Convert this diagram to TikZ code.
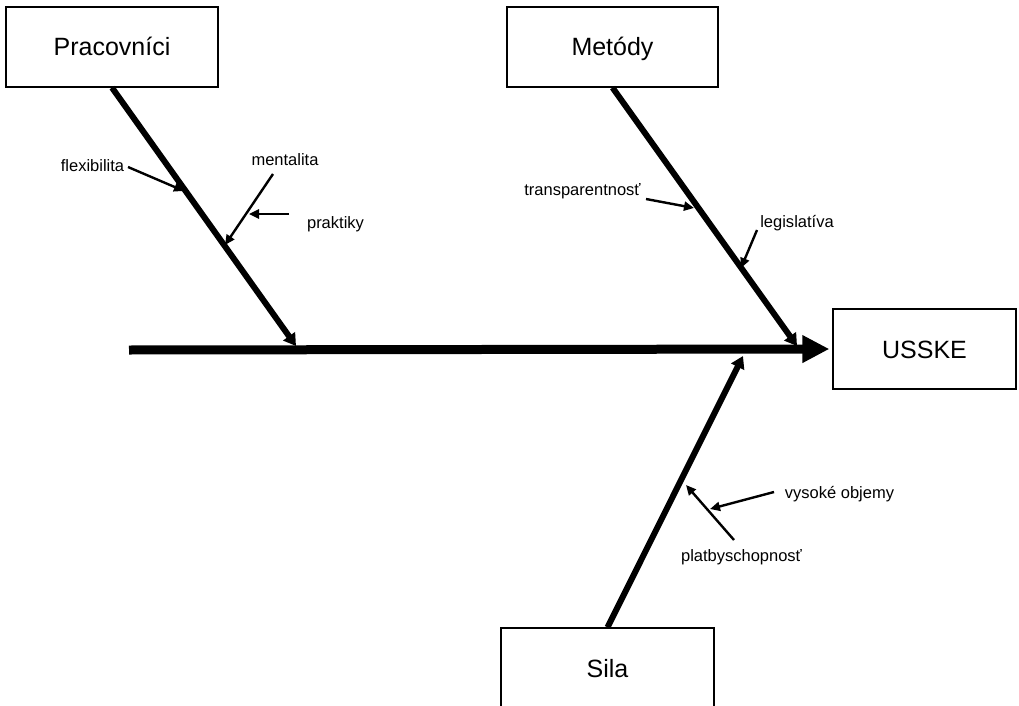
\documentclass[tikz,border=0pt]{standalone}
\usepackage{fontspec}
\setmainfont{Liberation Sans}
\usetikzlibrary{arrows.meta}
\begin{document}
\begin{tikzpicture}[x=1pt,y=-1pt,
  catbox/.style={draw=black,line width=1.3pt,minimum height=80pt,inner sep=0pt,text height=18pt,text depth=0pt,font=\fontsize{25}{29}\selectfont},
  lbl/.style={inner sep=0pt,font=\fontsize{16.5}{19}\selectfont},
  spine/.style={line width=9pt,-{Triangle[length=27pt,width=26pt]}},
  bone/.style={line width=6pt,-{Triangle[length=12pt,width=14pt]}},
  sub/.style={line width=2.4pt,-{Triangle[length=10pt,width=9pt]}}]
\clip (0,0) rectangle (1019,706);
\useasboundingbox (0,0) rectangle (1019,706);
% category boxes
\node[catbox,minimum width=212pt] (prac) at (112,47) {Pracovníci};
\node[catbox,minimum width=211pt] (met) at (612.5,47) {Metódy};
\node[catbox,minimum width=183pt] (usske) at (924.5,349) {USSKE};
\node[catbox,minimum width=213pt] (sila) at (607.5,668) {Sila};
% spine
\coordinate (tail) at (129,350);
\draw[spine] (tail) -- ([xshift=-3pt]usske.west);
% bones
\coordinate (pracTip) at (296,346);
\coordinate (metTip) at (797,346);
\coordinate (silaTip) at (743,356);
\draw[bone] (prac.south) -- (pracTip);
\draw[bone] (met.south) -- (metTip);
\draw[bone] (sila.north) -- (silaTip);
% labels
\node[lbl] (flex) at (92.5,166) {flexibilita};
\node[lbl] (ment) at (285,160) {mentalita};
\node[lbl] (prak) at (335.5,224) {praktiky};
\node[lbl] (trans) at (582.5,191) {transparentnosť};
\node[lbl] (legis) at (797,223) {legislatíva};
\node[lbl] (vys) at (839.5,494) {vysoké objemy};
\node[lbl] (plat) at (741.5,557) {platbyschopnosť};
% sub-arrow ends
\coordinate (flexS) at (128,167);
\coordinate (flexT) at (184,191);
\coordinate (mentS) at (273,174);
\coordinate (mentT) at (225,245);
\coordinate (prakS) at (289,214);
\coordinate (prakT) at (249,214);
\coordinate (transS) at (646,199);
\coordinate (transT) at (694,208);
\coordinate (legS) at (757,230);
\coordinate (legT) at (741,268);
\coordinate (vysS) at (774,492);
\coordinate (vysT) at (710,509);
\coordinate (platS) at (734,540);
\coordinate (platT) at (686,485);
\draw[sub] (flexS) -- (flexT);
\draw[sub] (mentS) -- (mentT);
\draw[sub] (prakS) -- (prakT);
\draw[sub] (transS) -- (transT);
\draw[sub] (legS) -- (legT);
\draw[sub] (vysS) -- (vysT);
\draw[sub] (platS) -- (platT);
\end{tikzpicture}
\end{document}
